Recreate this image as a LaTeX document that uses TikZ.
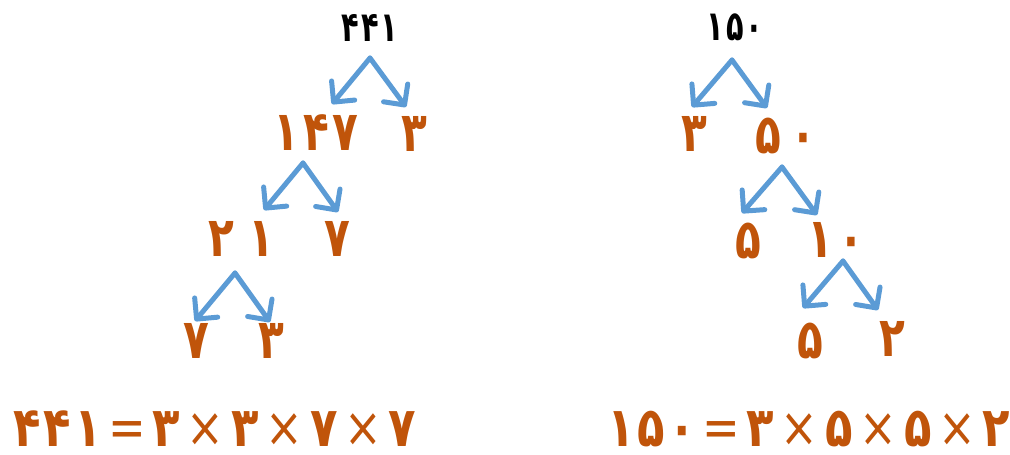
\documentclass[tikz,border=0pt]{standalone}
\usepackage{fontspec}
\usepackage{graphicx}
\usetikzlibrary{arrows.meta}
\newfontfamily\fa[Script=Arabic]{DejaVu Sans}
\definecolor{dig}{RGB}{192,84,10}
\definecolor{arrblue}{RGB}{91,155,213}
\newcommand\tnum[1]{\scalebox{0.88}[1.15]{#1}}
\newcommand\rnum[1]{\scalebox{0.9}[1.3]{#1}}
\newcommand\opx[1]{\hspace{7.5pt}{\mdseries #1}\hspace{7.5pt}}
\newcommand\gp{\hspace{4pt}}
\newcommand\eg{\hspace{3pt}}
\begin{document}
\begin{tikzpicture}[x=1pt,y=-1pt,
  num/.style={font=\fa\bfseries\fontsize{48}{48}\selectfont, text=dig, inner sep=0pt},
  rootnum/.style={font=\fa\bfseries\fontsize{32}{32}\selectfont, text=black, inner sep=0pt},
  eqn/.style={font=\fa\bfseries\fontsize{50}{50}\selectfont, text=dig, inner sep=0pt},
  arr/.style={draw=arrblue, line width=5pt, line cap=round, line join=round,
    -{Straight Barb[length=15pt,width=30pt,line width=5pt,round]}}]
\useasboundingbox (0,0) rectangle (1010,455);
% ---------- left tree ----------
\node[rootnum] (l441) at (370,28) {\rnum{۴\hspace{2pt}۴\hspace{2pt}۱}};
\node[num] (l147) at (316,133) {\tnum{۱\gp۴\gp۷}};
\node[num] (l3a) at (414,134) {\tnum{۳}};
\node[num] (l21) at (241,239) {\tnum{۲\hspace{16pt}۱}};
\node[num] (l7a) at (337,239) {\tnum{۷}};
\node[num] (l7b) at (196,341) {\tnum{۷}};
\node[num] (l3b) at (271,341) {\tnum{۳}};
\coordinate (la1) at (370,58);
\coordinate (la2) at (303,163);
\coordinate (la3) at (235,273);
\coordinate (lt1) at (332,104);
\coordinate (lt2) at (406,107);
\coordinate (lt3) at (264,210);
\coordinate (lt4) at (338,212);
\coordinate (lt5) at (195,321);
\coordinate (lt6) at (270,322);
\draw[arr] (la1) -- (lt1);
\draw[arr] (la1) -- (lt2);
\draw[arr] (la2) -- (lt3);
\draw[arr] (la2) -- (lt4);
\draw[arr] (la3) -- (lt5);
\draw[arr] (la3) -- (lt6);
% ---------- right tree ----------
\node[rootnum] (r150) at (735,27) {\rnum{۱\hspace{2pt}۵\hspace{2pt}۰}};
\node[num] (r3) at (694,134) {\tnum{۳}};
\node[num] (r50) at (786,136) {\tnum{۵\hspace{10pt}۰}};
\node[num] (r5a) at (748,241) {\tnum{۵}};
\node[num] (r10) at (836,240) {\tnum{۱\hspace{6pt}۰}};
\node[num] (r5b) at (810,341) {\tnum{۵}};
\node[num] (r2) at (892,339) {\tnum{۲}};
\coordinate (ra1) at (732,60);
\coordinate (ra2) at (782,167);
\coordinate (ra3) at (843,261);
\coordinate (rt1) at (692,107);
\coordinate (rt2) at (767,108);
\coordinate (rt3) at (742,213);
\coordinate (rt4) at (817,215);
\coordinate (rt5) at (803,308);
\coordinate (rt6) at (878,310);
\draw[arr] (ra1) -- (rt1);
\draw[arr] (ra1) -- (rt2);
\draw[arr] (ra2) -- (rt3);
\draw[arr] (ra2) -- (rt4);
\draw[arr] (ra3) -- (rt5);
\draw[arr] (ra3) -- (rt6);
% ---------- equations ----------
\node[eqn] (leq) at (215,429) {\scalebox{0.9}[1.1]{۴\eg۴\eg۱\opx{=}۳\opx{×}۳\opx{×}۷\opx{×}۷}};
\node[eqn] (req) at (809,429) {\scalebox{0.9}[1.1]{۱\eg۵\eg۰\opx{=}۳\opx{×}۵\opx{×}۵\opx{×}۲}};
\end{tikzpicture}
\end{document}
